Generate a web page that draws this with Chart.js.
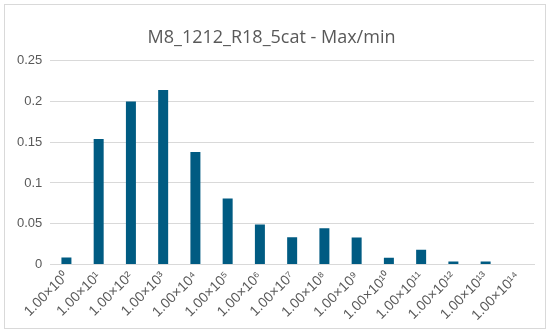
<!DOCTYPE html>
<html>
<head>
<meta charset="utf-8">
<script src="https://cdn.jsdelivr.net/npm/chart.js@4"></script>
<style>
    body { margin: 0; background: #fff; }
    #wrap {
        position: absolute; left: 4px; top: 4px;
        width: 540px; height: 323px;
        border: 1px solid #d9d9d9;
    }
</style>
</head>
<body>
<div id="wrap"><canvas id="chart"></canvas></div>
<script>
// Categories (x labels, exponent as unicode superscript)
const categories = [
    '1.00×10⁰', '1.00×10¹', '1.00×10²', '1.00×10³', '1.00×10⁴',
    '1.00×10⁵', '1.00×10⁶', '1.00×10⁷', '1.00×10⁸', '1.00×10⁹',
    '1.00×10¹⁰', '1.00×10¹¹', '1.00×10¹²', '1.00×10¹³', '1.00×10¹⁴'
];

// Values
const maxMinValues = [
    0.0085, 0.154, 0.2, 0.214, 0.138,
    0.081, 0.049, 0.0335, 0.0445, 0.033,
    0.0082, 0.018, 0.0037, 0.0037, 0
];

const yTicks = [0, 0.05, 0.1, 0.15, 0.2, 0.25];

const textGray = '#595959';

const ctx = document.getElementById('chart').getContext('2d');

new Chart(ctx, {
    type: 'bar',
    data: {
        labels: categories,
        datasets: [{
            label: 'Max/min',
            data: maxMinValues,
            backgroundColor: '#005b82',
            categoryPercentage: 1.0,
            barPercentage: 0.31
        }]
    },
    options: {
        responsive: true,
        maintainAspectRatio: false,
        animation: false,
        layout: {
            padding: { left: 4, right: 11, top: 6, bottom: 0 }
        },
        scales: {
            x: {
                grid: { display: false, drawTicks: false },
                border: { color: '#d9d9d9' },
                ticks: {
                    color: textGray,
                    font: { family: 'Liberation Sans', size: 14 },
                    minRotation: 45,
                    maxRotation: 45,
                    autoSkip: false,
                    padding: 4
                }
            },
            y: {
                min: 0,
                max: 0.25,
                afterBuildTicks: axis => {
                    axis.ticks = yTicks.map(v => ({ value: v }));
                },
                grid: { color: '#d9d9d9', drawTicks: false },
                border: { display: false },
                ticks: {
                    color: textGray,
                    font: { family: 'Liberation Sans', size: 13 },
                    padding: 8,
                    callback: v => String(v)
                }
            }
        },
        plugins: {
            legend: { display: false },
            tooltip: { enabled: false },
            title: {
                display: true,
                text: 'M8_1212_R18_5cat - Max/min',
                color: textGray,
                font: { family: 'Open Sans', size: 18, weight: 'normal' },
                padding: { top: 16, bottom: 12 }
            }
        }
    }
});
</script>
</body>
</html>
